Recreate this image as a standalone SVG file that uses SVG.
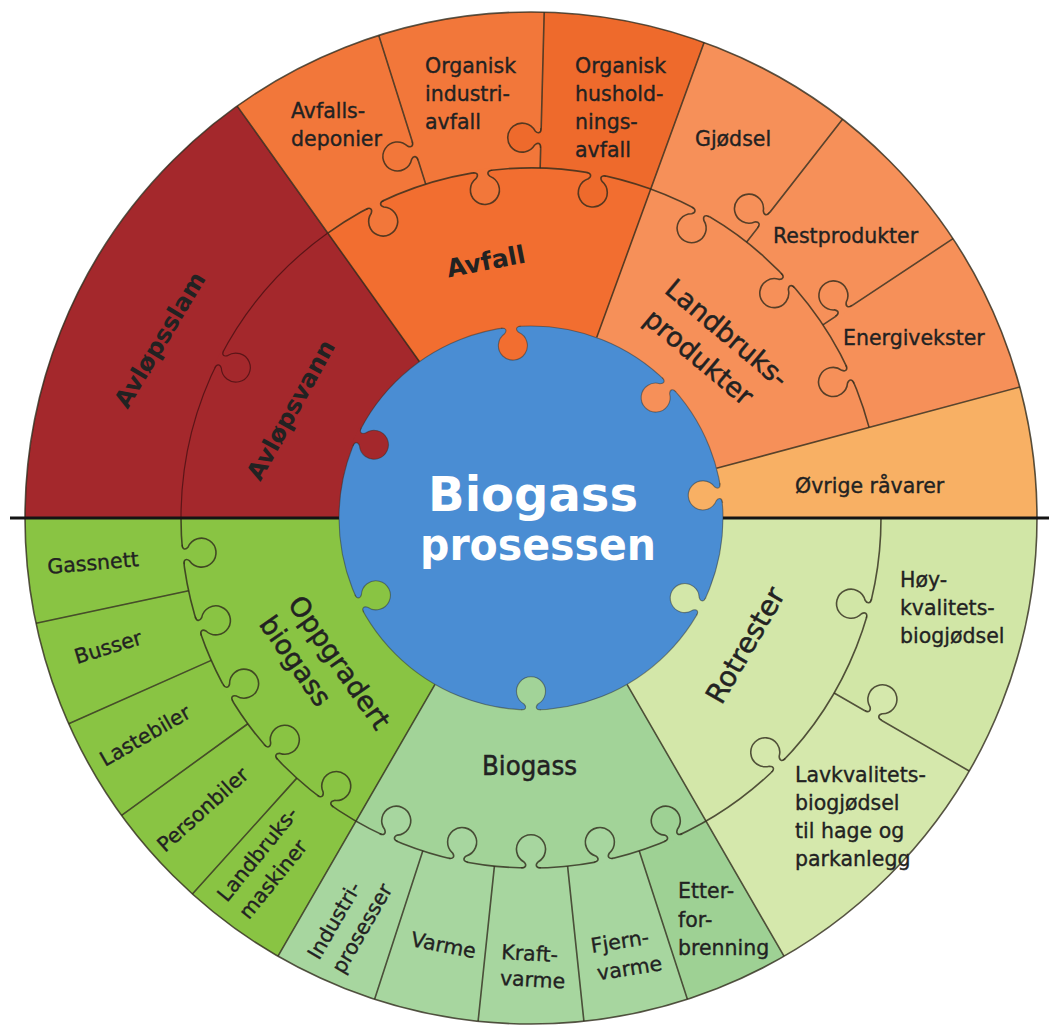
<svg xmlns="http://www.w3.org/2000/svg" width="1049" height="1026" viewBox="0 0 1049 1026">
<defs>
<style>
text{font-family:"DejaVu Sans","Liberation Sans",sans-serif;fill:#222}
.o{font-size:20.5px;stroke:#222;stroke-width:.35px}
.g{font-size:27px;stroke:#222;stroke-width:.5px}
.gb{font-size:24px;font-weight:bold}
.w{fill:#fff;font-weight:bold}
.sep{fill:none;stroke:#2f2a1c;stroke-width:1.6;stroke-opacity:.8}
.sepr{fill:none;stroke:#5c1518;stroke-width:1.2}
.kf{stroke:none}
.ks{fill:none;stroke:#2f2a1c;stroke-width:1.6;stroke-opacity:.8}
.ksr{fill:none;stroke:#5c1518;stroke-width:1.2}
.kb{fill:none;stroke:#2f2a1c;stroke-width:1.1;stroke-opacity:.45}
</style>
<g id="knob"><path class="kf" d="M-10,-2 L-10,0 C-5,0 -4,3 -7,6 A14.5,14.5 0 1 0 7,6 C4,3 5,0 10,0 L10,-2 Z"/><path class="ks" d="M-10,0 C-5,0 -4,3 -7,6 A14.5,14.5 0 1 0 7,6 C4,3 5,0 10,0"/></g>
<g id="knobR"><path class="kf" d="M-10,-2 L-10,0 C-5,0 -4,3 -7,6 A14.5,14.5 0 1 0 7,6 C4,3 5,0 10,0 L10,-2 Z"/><path class="ksr" d="M-10,0 C-5,0 -4,3 -7,6 A14.5,14.5 0 1 0 7,6 C4,3 5,0 10,0"/></g>
<g id="knobB"><path class="kf" d="M-10,-2 L-10,0 C-5,0 -4,3 -7,6 A14.5,14.5 0 1 0 7,6 C4,3 5,0 10,0 L10,-2 Z"/><path class="kb" d="M-10,0 C-5,0 -4,3 -7,6 A14.5,14.5 0 1 0 7,6 C4,3 5,0 10,0"/></g>
</defs>
<rect width="1049" height="1026" fill="#fff"/>

<g id="outer-items">
<g id="ovrige"><path d="M531,518 L1037,518 A506,506 0 0 0 1019.8,387 Z" fill="#F8B064"/><text class="o" x="795" y="493">Øvrige råvarer</text></g>
<g id="energivekster"><path d="M531,518 L1019.8,387 A506,506 0 0 0 953,238.7 Z" fill="#F69059"/><text class="o" x="843" y="345">Energivekster</text></g>
<g id="restprodukter"><path d="M531,518 L953,238.7 A506,506 0 0 0 842.5,119.3 Z" fill="#F69059"/><text class="o" x="773" y="243">Restprodukter</text></g>
<g id="gjodsel"><path d="M531,518 L842.5,119.3 A506,506 0 0 0 704.1,42.5 Z" fill="#F69059"/><text class="o" x="695" y="146">Gjødsel</text></g>
<g id="org-hushold"><path d="M531,518 L704.1,42.5 A506,506 0 0 0 544.2,12.2 Z" fill="#EE6A2C"/><text class="o"><tspan x="575" y="72.5">Organisk</tspan><tspan x="575" y="100.5">hushold-</tspan><tspan x="575" y="128.5">nings-</tspan><tspan x="575" y="156.5">avfall</tspan></text></g>
<g id="org-industri"><path d="M531,518 L544.2,12.2 A506,506 0 0 0 378.8,35.4 Z" fill="#F2773A"/><text class="o"><tspan x="425" y="72.5">Organisk</tspan><tspan x="425" y="100.5">industri-</tspan><tspan x="425" y="128.5">avfall</tspan></text></g>
<g id="avfallsdeponier"><path d="M531,518 L378.8,35.4 A506,506 0 0 0 237.2,106.1 Z" fill="#F2773A"/><text class="o"><tspan x="291" y="118">Avfalls-</tspan><tspan x="291" y="146">deponier</tspan></text></g>
<g id="avlopsslam"><path d="M531,518 L237.2,106.1 A506,506 0 0 0 25,518 Z" fill="#A4282C"/><text class="gb" text-anchor="middle" transform="translate(160 340) rotate(-59)" y="8">Avløpsslam</text></g>
<g id="gassnett"><path d="M531,518 L25,518 A506,506 0 0 0 36.1,623.2 Z" fill="#89C443"/><text class="o" transform="translate(48 574) rotate(-5)">Gassnett</text></g>
<g id="busser"><path d="M531,518 L36.1,623.2 A506,506 0 0 0 68.7,723.8 Z" fill="#89C443"/><text class="o" transform="translate(77 664) rotate(-17)">Busser</text></g>
<g id="lastebiler"><path d="M531,518 L68.7,723.8 A506,506 0 0 0 121.6,815.4 Z" fill="#89C443"/><text class="o" transform="translate(105 767) rotate(-30)">Lastebiler</text></g>
<g id="personbiler"><path d="M531,518 L121.6,815.4 A506,506 0 0 0 192.4,894 Z" fill="#89C443"/><text class="o" transform="translate(165 853) rotate(-42)">Personbiler</text></g>
<g id="landbruksmaskiner"><path d="M531,518 L192.4,894 A506,506 0 0 0 278,956.2 Z" fill="#89C443"/><text class="o" transform="translate(227 903) rotate(-51)"><tspan x="0" y="0">Landbruks-</tspan><tspan x="0" y="28">maskiner</tspan></text></g>
<g id="industriprosesser"><path d="M531,518 L278,956.2 A506,506 0 0 0 374.6,999.2 Z" fill="#A7D69F"/><text class="o" transform="translate(319 961) rotate(-60)"><tspan x="0" y="0">Industri-</tspan><tspan x="0" y="28">prosesser</tspan></text></g>
<g id="varme"><path d="M531,518 L374.6,999.2 A506,506 0 0 0 478.1,1021.2 Z" fill="#A7D69F"/><text class="o" transform="translate(410 946) rotate(11)">Varme</text></g>
<g id="kraftvarme"><path d="M531,518 L478.1,1021.2 A506,506 0 0 0 583.9,1021.2 Z" fill="#A7D69F"/><text class="o" transform="translate(501 959) rotate(3)"><tspan x="0" y="0">Kraft-</tspan><tspan x="0" y="26">varme</tspan></text></g>
<g id="fjernvarme"><path d="M531,518 L583.9,1021.2 A506,506 0 0 0 687.4,999.2 Z" fill="#A7D69F"/><text class="o" transform="translate(592 953) rotate(-9)"><tspan x="0" y="0">Fjern-</tspan><tspan x="2" y="28">varme</tspan></text></g>
<g id="etterforbrenning"><path d="M531,518 L687.4,999.2 A506,506 0 0 0 784,956.2 Z" fill="#9ED194"/><text class="o"><tspan x="678" y="898">Etter-</tspan><tspan x="678" y="926.5">for-</tspan><tspan x="678" y="955">brenning</tspan></text></g>
<g id="lavkvalitet"><path d="M531,518 L784,956.2 A506,506 0 0 0 969.2,771 Z" fill="#D5E8AC"/><text class="o"><tspan x="795" y="782">Lavkvalitets-</tspan><tspan x="795" y="810">biogjødsel</tspan><tspan x="795" y="838">til hage og</tspan><tspan x="795" y="866">parkanlegg</tspan></text></g>
<g id="hoykvalitet"><path d="M531,518 L969.2,771 A506,506 0 0 0 1037,518 Z" fill="#D1E6A6"/><text class="o"><tspan x="900" y="587">Høy-</tspan><tspan x="900" y="615">kvalitets-</tspan><tspan x="900" y="643">biogjødsel</tspan></text></g>
</g>

<g id="inner-groups">
<g id="landbruksprodukter"><path d="M531,518 L869.08,427.41 A350,350 0 0 0 650.71,189.11 Z" fill="#F69059"/><text class="g" text-anchor="middle" transform="translate(727 333) rotate(40)"><tspan x="0" y="9.5">Landbruks-</tspan><tspan x="-6" y="46">produkter</tspan></text></g>
<g id="avfall"><path d="M531,518 L650.71,189.11 A350,350 0 0 0 327.75,233.06 Z" fill="#F26E30"/><text class="gb" style="font-size:25px" text-anchor="middle" transform="translate(486 262) rotate(-11)" y="8">Avfall</text></g>
<g id="avlopsvann"><path d="M531,518 L327.75,233.06 A350,350 0 0 0 181,518 Z" fill="#A4282C"/><text class="gb" text-anchor="middle" transform="translate(291 410) rotate(-61)" y="8">Avløpsvann</text></g>
<g id="oppgradert"><path d="M531,518 L181,518 A350,350 0 0 0 356,821.11 Z" fill="#89C443"/><text class="g" transform="translate(287 604) rotate(55)"><tspan x="0" y="0">Oppgradert</tspan><tspan x="0" y="35">biogass</tspan></text></g>
<g id="biogass-ring"><path d="M531,518 L356,821.11 A350,350 0 0 0 706,821.11 Z" fill="#A2D398"/><text x="529.5" y="775" text-anchor="middle" style="font-size:27px;stroke:#222;stroke-width:.5px" textLength="95" lengthAdjust="spacingAndGlyphs">Biogass</text></g>
<g id="rotrester"><path d="M531,518 L706,821.11 A350,350 0 0 0 881,518 Z" fill="#D3E7A9"/><text class="g" style="font-size:28px" text-anchor="middle" transform="translate(745 645) rotate(-60)" y="10">Rotrester</text></g>
</g>

<g id="connectors">
<path class="sep" d="M716.46,468.31 L1019.8,387 M822.86,324.82 L953,238.7 M746.48,242.2 L842.5,119.3 M596.67,337.58 L704.1,42.5 M540.16,168.12 L544.2,12.2 M425.75,184.2 L378.8,35.4 M419.51,361.69 L237.2,106.1"/>
<path class="sep" d="M188.65,590.77 L36.1,623.2 M211.26,660.36 L68.7,723.8 M247.84,723.73 L121.6,815.4 M296.8,778.1 L192.4,894 M435,684.28 L278,956.2 M422.84,850.87 L374.6,999.2 M494.41,866.08 L478.1,1021.2 M567.59,866.08 L583.9,1021.2 M639.16,850.87 L687.4,999.2 M627,684.28 L784,956.2 M834.11,693 L969.2,771"/>
<path class="sep" d="M869.08,427.41 A350,350 0 0 0 327.75,233.06"/>
<path class="sepr" d="M327.75,233.06 A350,350 0 0 0 181,518"/>
<path class="sep" d="M181,518 A350,350 0 0 0 881,518"/>
<circle class="sep" cx="531" cy="518" r="506"/>
<path d="M10,518 L1049,518" stroke="#141414" stroke-width="3" fill="none"/>
</g>

<g id="knobs">
<use href="#knob" fill="#F69059" transform="rotate(65.75 531 518) translate(531 168)"/>
<use href="#knob" fill="#F69059" transform="rotate(47.25 531 518) translate(531 168)"/>
<use href="#knob" fill="#F69059" transform="rotate(29 531 518) translate(531 168)"/>
<use href="#knob" fill="#EE6A2C" transform="rotate(10.75 531 518) translate(531 168)"/>
<use href="#knob" fill="#F2773A" transform="rotate(-8 531 518) translate(531 168)"/>
<use href="#knob" fill="#F2773A" transform="rotate(-26.5 531 518) translate(531 168)"/>
<use href="#knobR" fill="#A4282C" transform="rotate(-63 531 518) translate(531 168)"/>
<use href="#knob" fill="#89C443" transform="rotate(-96 531 518) translate(531 168)"/>
<use href="#knob" fill="#89C443" transform="rotate(-108 531 518) translate(531 168)"/>
<use href="#knob" fill="#89C443" transform="rotate(-120 531 518) translate(531 168)"/>
<use href="#knob" fill="#89C443" transform="rotate(-132 531 518) translate(531 168)"/>
<use href="#knob" fill="#89C443" transform="rotate(-144 531 518) translate(531 168)"/>
<use href="#knob" fill="#A7D69F" transform="rotate(-156 531 518) translate(531 168)"/>
<use href="#knob" fill="#A7D69F" transform="rotate(-168 531 518) translate(531 168)"/>
<use href="#knob" fill="#A7D69F" transform="rotate(180 531 518) translate(531 168)"/>
<use href="#knob" fill="#A7D69F" transform="rotate(168 531 518) translate(531 168)"/>
<use href="#knob" fill="#9ED194" transform="rotate(156 531 518) translate(531 168)"/>
<use href="#knob" fill="#D5E8AC" transform="rotate(135 531 518) translate(531 168)"/>
<use href="#knob" fill="#D1E6A6" transform="rotate(105 531 518) translate(531 168)"/>
<use href="#knob" fill="#F2773A" transform="translate(415.23 150.82) rotate(72.5)"/>
<use href="#knob" fill="#EE6A2C" transform="translate(540.95 138.13) rotate(91.5)"/>
<use href="#knob" fill="#F69059" transform="translate(763.72 220.13) rotate(128)"/>
<use href="#knob" fill="#F69059" transform="translate(843.71 311.02) rotate(146.5)"/>
<use href="#knob" fill="#D5E8AC" transform="translate(873.08 715.5) rotate(-150)"/>
</g>

<g id="biogass-prosessen">
<circle cx="531" cy="518" r="192" fill="#4A8DD3" stroke="#2f2a1c" stroke-opacity=".45" stroke-width="1.1"/>
<use href="#knobB" fill="#F26E30" transform="rotate(-6 531 518) translate(531 326)"/>
<use href="#knobB" fill="#F69059" transform="rotate(46 531 518) translate(531 326)"/>
<use href="#knobB" fill="#F8B064" transform="rotate(82.5 531 518) translate(531 326)"/>
<use href="#knobB" fill="#A4282C" transform="rotate(-65 531 518) translate(531 326)"/>
<use href="#knobB" fill="#89C443" transform="rotate(-116.5 531 518) translate(531 326)"/>
<use href="#knobB" fill="#A2D398" transform="rotate(180 531 518) translate(531 326)"/>
<use href="#knobB" fill="#D3E7A9" transform="rotate(117.5 531 518) translate(531 326)"/>
<text class="w" x="533" y="511" text-anchor="middle" style="font-size:48px">Biogass</text>
<text class="w" x="538" y="560" text-anchor="middle" style="font-size:44px" textLength="236" lengthAdjust="spacingAndGlyphs">prosessen</text>
</g>
</svg>
